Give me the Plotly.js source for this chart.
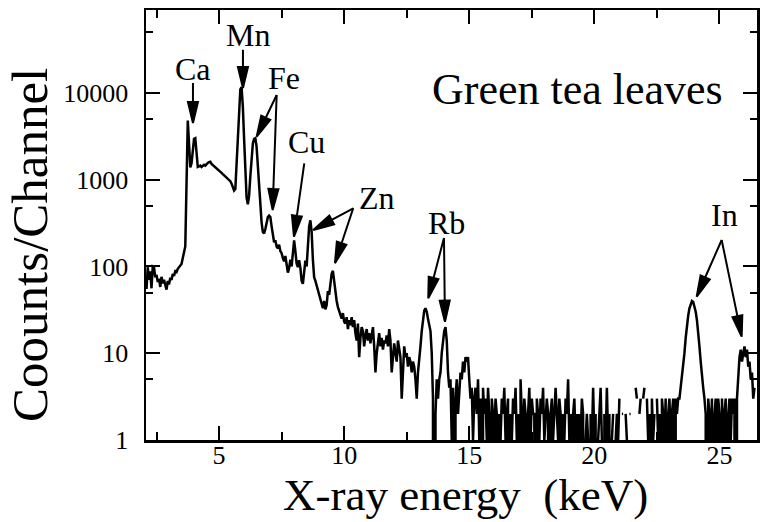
<!DOCTYPE html>
<html><head><meta charset="utf-8">
<script src="https://cdn.plot.ly/plotly-3.0.1.min.js"></script>
<style>html,body{margin:0;padding:0;background:#fff}#chart{width:760px;height:522px}</style>
</head><body><div id="chart"></div>
<script>
// Spectrum channels: first channel energy and channel width (keV)
const energyStart = 2.10;
const energyStep = 0.05;
// Counts per channel (null = channel not drawn)
const counts = [
 55,98,70,88,56,100,98,75,80,66,72,58,76,64,70,60,54,68,62,74,
 70,82,78,88,86,94,98,102,107,125,145,170,900,4800,2600,1380,1550,2300,2950,3000,
 2200,1400,1420,1450,1400,1460,1480,1450,1530,1560,1590,1610,1520,1480,1430,1400,1360,1330,1280,1250,
 1200,1160,1120,1100,1060,1020,990,960,900,820,750,780,1500,3500,7500,11000,11600,7000,3000,1200,
 620,520,650,1100,1900,2600,2950,3000,2400,1500,800,450,320,250,240,270,320,370,385,370,
 290,220,190,200,170,162,178,150,142,125,115,132,108,85,96,120,100,140,200,150,
 108,98,118,96,68,63,88,117,100,160,290,340,250,120,75,68,60,56,49,42,
 38,33,40,32,36,52,47,62,82,89,68,47,40,34,30,27,25,29,23,22,
 26,19,24,21,26,20,24,17,14,22,9,15,20,18,12,16,19,14,17,13,
 16,20,12,6,10,14,17,12,15,11,14,13,16,12,19,14,6,9,13,10,
 8,14,11,9,3,8,12,9,10,7,9,8,6,8,7,5,3,6,8,12,
 18,25,31,33,30,25,22,18,10,3,0,2,5,3,5,6,10,15,18,20,
 14,6,4,5,1,4,0,3,5,2,4,6,5,8,6,9,8,9,5,3,
 4,1,3,4,2,5,1,3,0,4,2,3,1,4,2,0,3,2,1,3,
 2,0,2,1,3,2,4,1,2,3,0,2,1,3,2,4,1,2,0,5,
 2,1,3,2,0,2,4,1,3,2,2,0,3,2,1,3,2,4,1,2,
 3,2,0,2,3,1,2,4,2,1,3,2,0,2,1,3,2,5,1,2,
 0,2,3,1,2,0,2,1,3,2,0,1,2,1,0,2,1,4,1,2,
 0,1,2,4,1,0,2,1,4,1,2,0,1,2,null,1,2,1,3,null,
 2,2,null,2,1,null,2,2,null,3,null,4,3,null,2,3,null,3,4,null,
 3,1,2,0,3,1,2,null,3,1,2,0,3,2,1,3,0,2,3,1,
 2,3,0,3,2,3,3,4,5,7,10,15,21,27,33,37,40,39,35,30,
 24,18,12,8,5,4,3,2,0,3,2,1,3,0,2,3,1,3,2,0,
 3,1,2,3,0,2,3,1,3,2,3,0,3,6,9,11,8,10,12,9,
 11,7,8,5,6,3,4
];
const xTickVals = [5, 10, 15, 20, 25];
const xTickText = ['5', '10', '15', '20', '25'];
const xMinorVals = [2.5, 7.5, 12.5, 17.5, 22.5];
const yTickVals = [1, 10, 100, 1000, 10000];
const yTickText = ['1', '10', '100', '1000', '10000'];
const yMinorVals = [5, 50, 500, 5000, 50000];
const elementLabels = ['Ca', 'Mn', 'Fe', 'Cu', 'Zn', 'Rb', 'In'];
const sampleName = 'Green tea leaves';
const xTitle = 'X-ray energy  (keV)';
const yTitle = 'Coounts/Channel';

const serif = "'Liberation Serif', 'Times New Roman', Times, serif";

// arrow drawn as a pixel-sized path anchored at its head (data coords)
function arrow(xE, yC, dx, dy) {
  const len = Math.hypot(dx, dy);
  const ux = -dx / len, uy = -dy / len;
  const L = 21, W = 10;
  const bx = -ux * L, by = -uy * L;
  const nx = -uy, ny = ux;
  const p = (x, y) => x.toFixed(2) + ',' + (-y).toFixed(2);
  const path = 'M' + p(dx, dy) + 'L' + p(bx, by) +
    'M' + p(0, 0) + 'L' + p(bx + nx * W / 2, by + ny * W / 2) + 'L' + p(bx - nx * W / 2, by - ny * W / 2) + 'Z';
  return {type: 'path', xref: 'x', yref: 'y', xsizemode: 'pixel', ysizemode: 'pixel',
    xanchor: xE, yanchor: yC, path: path, fillcolor: 'black',
    line: {color: 'black', width: 2}};
}

const shapes = [
  arrow(3.957, 4500, 0, -40),
  arrow(5.955, 11380, 0, -38.3),
  arrow(6.503, 3126, 20, -41.7),
  arrow(7.142, 447, 4, -115),
  arrow(7.994, 220, 10.3, -73.4),
  arrow(8.765, 263, 40, -21.7),
  arrow(9.632, 109, 18.3, -55),
  arrow(13.361, 43, 15.7, -60.3),
  arrow(14.029, 23.1, -1, -83.7),
  arrow(24.089, 44.8, 25, -56.7),
  arrow(25.887, 15.5, -20, -96.7)
];

const labelPos = [[0.0769, 0.8628], [0.1669, 0.9419], [0.2259, 0.8419], [0.2635, 0.6930],
                  [0.3781, 0.5628], [0.4926, 0.5047], [0.946, 0.5233]];
const annotations = elementLabels.map((t, i) => ({
  text: t, xref: 'paper', yref: 'paper', x: labelPos[i][0], y: labelPos[i][1],
  showarrow: false, xanchor: 'center', yanchor: 'middle',
  font: {family: serif, size: 32, color: 'black'}
}));
annotations.push({
  text: sampleName, xref: 'paper', yref: 'paper', x: 0.707, y: 0.814,
  showarrow: false, xanchor: 'center', yanchor: 'middle',
  font: {family: serif, size: 44, color: 'black'}
});
// axis titles
annotations.push({
  text: xTitle, xref: 'paper', yref: 'paper', x: 0.5237, y: -0.128,
  showarrow: false, xanchor: 'center', yanchor: 'middle',
  font: {family: serif, size: 45, color: 'black'}
});
annotations.push({
  text: yTitle, xref: 'paper', yref: 'paper', x: -0.190, y: 0.4535, textangle: -90,
  showarrow: false, xanchor: 'center', yanchor: 'middle',
  font: {family: serif, size: 51, color: 'black'}
});

const trace = {
  type: 'scatter', mode: 'lines', x0: energyStart, dx: energyStep, y: counts,
  line: {color: 'black', width: 2.5}, connectgaps: false, hoverinfo: 'skip'
};

const layout = {
  width: 760, height: 522,
  margin: {l: 146, r: 3, t: 10, b: 82},
  paper_bgcolor: 'white', plot_bgcolor: 'white',
  showlegend: false,
  font: {family: serif, color: 'black', size: 26},
  xaxis: {
    range: [2.08, 26.5], tickmode: 'array', tickvals: xTickVals, ticktext: xTickText,
    ticks: 'inside', ticklen: 14, tickwidth: 2, tickcolor: 'black',
    showline: true, linewidth: 2.5, linecolor: 'black', mirror: 'ticks',
    showgrid: false, zeroline: false, tickfont: {family: serif, size: 26},
    ticklabelstandoff: -10,
    minor: {tickmode: 'array', tickvals: xMinorVals, ticks: 'inside', ticklen: 8, tickwidth: 2, tickcolor: 'black', showgrid: false}
  },
  yaxis: {
    type: 'log', range: [0, 4.955], tickmode: 'array', tickvals: yTickVals, ticktext: yTickText,
    ticks: 'inside', ticklen: 14, tickwidth: 2, tickcolor: 'black',
    showline: true, linewidth: 2.5, linecolor: 'black', mirror: 'ticks',
    showgrid: false, zeroline: false, tickfont: {family: serif, size: 26},
    ticklabelstandoff: 10,
    minor: {tickmode: 'array', tickvals: yMinorVals, ticks: 'inside', ticklen: 7, tickwidth: 2, tickcolor: 'black', showgrid: false}
  },
  shapes: shapes,
  annotations: annotations
};

Plotly.newPlot('chart', [trace], layout, {staticPlot: true, displayModeBar: false});
</script>
</body></html>
